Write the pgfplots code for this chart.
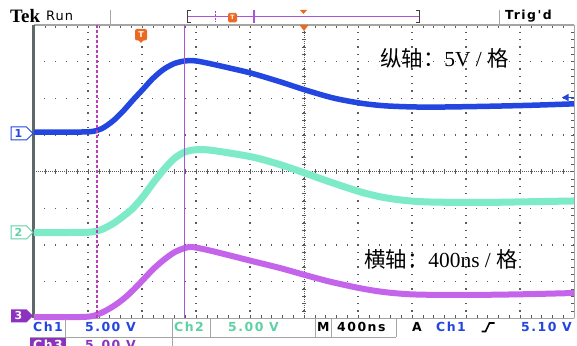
\documentclass[border=0pt]{standalone}
\usepackage{pgfplots}
\usepackage{pgfplotstable}
\pgfplotsset{compat=1.18}
\usepackage{fontspec}
\setmainfont{DejaVu Sans}
\newfontfamily\cjk{Noto Sans CJK SC}
\newfontfamily\serifrm{Liberation Serif}
\newfontfamily\tek{DejaVu Sans}[LetterSpace=12]
\newfontfamily\tekrun{DejaVu Sans}[LetterSpace=8]
\definecolor{chone}{RGB}{35,70,225}
\definecolor{chtwo}{RGB}{125,235,200}
\definecolor{chthree}{RGB}{195,100,235}
\definecolor{chtwotxt}{RGB}{95,210,165}
\definecolor{chthreedk}{RGB}{140,50,190}
\definecolor{cursor}{RGB}{170,85,215}
\definecolor{cursdash}{RGB}{185,60,185}
\definecolor{tekorange}{RGB}{235,105,35}
\definecolor{gridc}{RGB}{90,90,90}
\definecolor{sepc}{RGB}{165,165,165}
\definecolor{edgec}{RGB}{95,105,108}

\pgfplotstableread{
x y
0 1.08
0.6 1.08
1.04 1.09
1.25 1.17
1.46 1.38
1.65 1.65
1.83 1.95
2.02 2.25
2.20 2.54
2.40 2.79
2.60 2.95
2.80 3.02
3.00 3.02
3.31 2.93
3.70 2.80
4.04 2.68
4.56 2.45
5.02 2.23
5.54 2.01
6.04 1.87
6.46 1.80
6.90 1.77
7.39 1.76
8.31 1.78
9.20 1.81
10 1.85
}\chonetab

\pgfplotstableread{
x y
0 -1.66
0.6 -1.66
1.04 -1.65
1.25 -1.58
1.46 -1.42
1.65 -1.22
1.83 -1.00
2.02 -0.68
2.20 -0.32
2.40 0.05
2.60 0.36
2.80 0.54
3.02 0.60
3.30 0.58
4.04 0.40
4.56 0.19
5.02 -0.04
5.48 -0.28
6.04 -0.55
6.46 -0.70
6.90 -0.79
7.39 -0.83
8.31 -0.84
9.20 -0.82
10 -0.80
}\chtwotab

\pgfplotstableread{
x y
0 -3.97
0.6 -3.97
1.04 -3.95
1.25 -3.85
1.46 -3.68
1.65 -3.48
1.83 -3.24
2.02 -2.95
2.20 -2.67
2.40 -2.41
2.60 -2.20
2.80 -2.08
2.95 -2.06
3.31 -2.17
4.04 -2.44
4.56 -2.63
5.02 -2.82
5.48 -3.00
6.04 -3.18
6.46 -3.28
6.90 -3.34
7.39 -3.36
8.31 -3.36
9.20 -3.34
10 -3.31
}\chthreetab

\begin{document}
\begin{tikzpicture}
\path[use as bounding box] (0,0) rectangle (577bp,346bp);
\fill[white] (0,0) rectangle (577bp,346bp);
% ---------- graticule ----------
\begin{scope}[x=1bp,y=-1bp,yshift=346bp]
  \foreach \i in {1,...,9} {
    \foreach \k in {0,...,40} {
      \fill[gridc] ({34+54*\i-0.6},{25+7.3325*\k-0.6}) rectangle ++(1.2,1.2);
    }
  }
  \foreach \j in {1,...,7} {
    \foreach \k in {0,...,50} {
      \fill[gridc] ({34+10.8*\k-0.6},{25+36.6625*\j-0.6}) rectangle ++(1.2,1.2);
    }
  }
  % center lines
  \draw[gridc, line width=0.6bp, dash pattern=on 1bp off 1bp] (34,171.67) -- (574,171.67);
  \draw[gridc, line width=0.6bp, dash pattern=on 1bp off 1bp] (304,25) -- (304,318.3);
  \foreach \k in {0,...,50} {
    \draw[gridc, line width=0.6bp] ({34+10.8*\k},169.4) -- ({34+10.8*\k},173.9);
    \draw[gridc, line width=0.6bp] ({34+10.8*\k},25) -- ({34+10.8*\k},28);
    \draw[gridc, line width=0.6bp] ({34+10.8*\k},318.3) -- ({34+10.8*\k},315.3);
  }
  \foreach \k in {0,...,40} {
    \draw[gridc, line width=0.6bp] (301.7,{25+7.3325*\k}) -- (306.3,{25+7.3325*\k});
    \draw[gridc, line width=0.6bp] (574,{25+7.3325*\k}) -- (571,{25+7.3325*\k});
  }
  \draw[sepc, line width=1.2bp] (34,25) -- (574,25);
  \draw[sepc, line width=0.8bp] (34,318.3) -- (574,318.3);
  \draw[sepc, line width=0.8bp] (574,25) -- (574,318.3);
  \fill[edgec] (31.5,25) rectangle (35,318.3);
\end{scope}
% ---------- traces ----------
\begin{axis}[at={(34bp,27.7bp)}, anchor=south west, scale only axis,
  width=540bp, height=293.3bp, xmin=0, xmax=10, ymin=-4, ymax=4,
  axis lines=none, ticks=none, clip=false]
\addplot[chtwo, line width=7bp, smooth, tension=0.5] table[x=x,y=y]{\chtwotab};
\addplot[chthree, line width=6bp, smooth, tension=0.5] table[x=x,y=y]{\chthreetab};
\addplot[chone, line width=5.5bp, smooth, tension=0.5] table[x=x,y=y]{\chonetab};
\end{axis}
% ---------- overlays ----------
\begin{scope}[x=1bp,y=-1bp,yshift=346bp]
  % cursors
  \draw[cursdash, line width=1.1bp, dash pattern=on 3bp off 2bp] (97,25) -- (97,318.3);
  \draw[cursor, line width=1.6bp] (184.5,25) -- (184.5,318.3);
  % trigger markers
  \fill[tekorange] (299.5,25) -- (308.5,25) -- (304,31) -- cycle;
  \fill[tekorange, rounded corners=2bp] (135,29) rectangle (147,40.5);
  \fill[tekorange] (138,40) -- (144,40) -- (141,43) -- cycle;
  \node[white, font=\bfseries\fontsize{8}{8}\selectfont, inner sep=0] at (141,34.8) {T};
  % right trigger level arrow
  \fill[chone] (562,97.5) -- (568.5,93.8) -- (568.5,101.2) -- cycle;
  \draw[chone, line width=1.2bp] (568,97.5) -- (574,97.5);
  % channel markers
  \draw[chone, fill=white, line width=1bp] (11,127) -- (26.5,127) -- (33,133.5) -- (26.5,140) -- (11,140) -- cycle;
  \node[chone, font=\bfseries\fontsize{11}{11}\selectfont, inner sep=0] at (18.5,133.5) {1};
  \draw[chtwotxt, fill=white, line width=1bp] (11,226) -- (26.5,226) -- (33,232.5) -- (26.5,239) -- (11,239) -- cycle;
  \node[chtwotxt, font=\bfseries\fontsize{11}{11}\selectfont, inner sep=0] at (18.5,232.5) {2};
  \fill[chthreedk] (11,309.5) -- (26.5,309.5) -- (33,316) -- (26.5,322.5) -- (11,322.5) -- cycle;
  \node[white, font=\bfseries\fontsize{11}{11}\selectfont, inner sep=0] at (18.5,316) {3};
  % annotations
  \node[anchor=west, inner sep=0, font=\fontsize{21.5}{23}\selectfont] at (380,58) {{\cjk 纵轴：}{\serifrm 5V / }{\cjk 格}};
  \node[anchor=west, inner sep=0, font=\fontsize{21.5}{23}\selectfont] at (364,259) {{\cjk 横轴：}{\serifrm 400ns / }{\cjk 格}};
  % ---------- top bar ----------
  \node[anchor=west, inner sep=0, font=\serifrm\bfseries\fontsize{19}{19}\selectfont] at (10,16) {Tek};
  \node[anchor=west, inner sep=0, font=\tekrun\fontsize{13}{13}\selectfont] at (46,16) {Run};
  \draw[sepc, line width=1bp] (110,10) -- (110,24);
  \draw[sepc, line width=1bp] (499,10) -- (499,24);
  \draw[black!75, line width=1bp] (191,10.5) -- (187.5,10.5) -- (187.5,22.5) -- (191,22.5);
  \draw[black!75, line width=1bp] (416,10.5) -- (419.5,10.5) -- (419.5,22.5) -- (416,22.5);
  \draw[cursor, line width=1.2bp] (188,16.5) -- (419,16.5);
  \draw[cursdash, line width=1bp, dash pattern=on 2bp off 1.5bp] (215,11) -- (215,22);
  \draw[cursor, line width=1.2bp] (254,10) -- (254,23);
  \fill[tekorange, rounded corners=1.5bp] (228,13) rectangle (237,22.5);
  \node[white, font=\bfseries\fontsize{6}{6}\selectfont, inner sep=0] at (232.5,17.5) {T};
  \fill[tekorange] (300,10) -- (307,10) -- (303.5,14) -- cycle;
  \node[anchor=west, inner sep=0, font=\tek\bfseries\fontsize{12.5}{13}\selectfont] at (505,16) {Trig'd};
  % ---------- status bar ----------
  \draw[sepc, line width=0.8bp] (65.5,319) -- (65.5,346);
  \draw[sepc, line width=0.8bp] (172,319) -- (172,346);
  \draw[sepc, line width=0.8bp] (210.5,319) -- (210.5,337.5);
  \draw[sepc, line width=0.8bp] (315,319) -- (315,337.5);
  \draw[sepc, line width=0.8bp] (331,319) -- (331,337.5);
  \draw[sepc, line width=0.8bp] (396,319) -- (396,337.5);
  \draw[sepc, line width=0.8bp] (30,337.5) -- (396,337.5);
  \begin{scope}[every node/.style={anchor=west, inner sep=0, font=\tek\bfseries\fontsize{12.5}{13}\selectfont}]
    \node[chone] at (33,327) {Ch1};
    \node[chone] at (85,327) {5.00 V};
    \node[chtwotxt] at (174,327) {Ch2};
    \node[chtwotxt] at (228,327) {5.00 V};
    \node[black] at (317,327) {M};
    \node[black] at (337,327) {400ns};
    \node[black] at (412,327) {A};
    \node[chone] at (436,327) {Ch1};
    \node[chone] at (521,327) {5.10 V};
    \fill[chthreedk] (30,338.5) rectangle (66,350);
    \node[white] at (33,344.5) {Ch3};
    \node[chthreedk] at (85,344.5) {5.00 V};
  \end{scope}
  \draw[black, line width=1.6bp] (481.5,331.5) -- (485.5,331.5) -- (489.5,323) -- (494.5,323);
\end{scope}
\end{tikzpicture}
\end{document}
